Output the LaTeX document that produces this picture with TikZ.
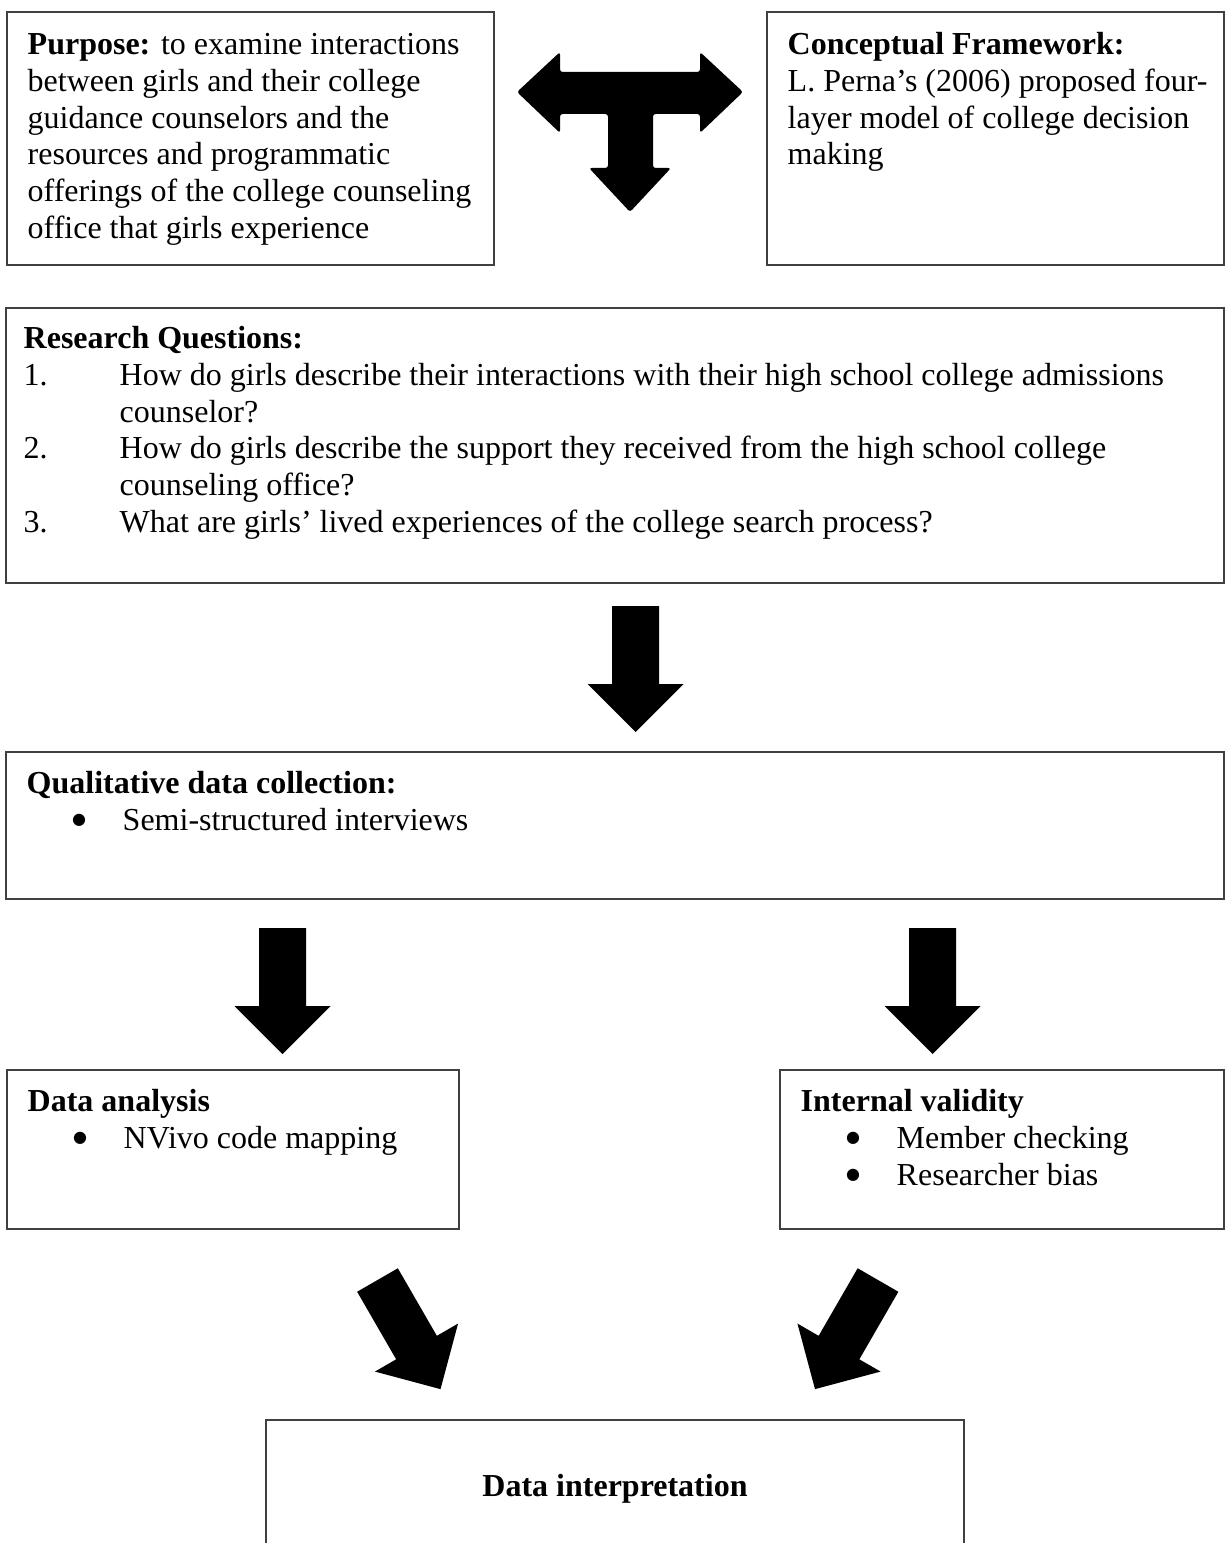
\documentclass[tikz,border=0pt]{standalone}
\usepackage{fontspec}
\setmainfont{Liberation Serif}
\newfontfamily\bulfont{DejaVu Sans}
\usetikzlibrary{fit,positioning}

\tikzset{
  box/.style={draw=black!75, line width=0.6pt, inner sep=0pt},
  boxtext/.style={anchor=north west, inner sep=0pt, align=left,
    font=\fontsize{12pt}{13.8pt}\selectfont},
  pics/blockarrow/.style={code={
    \fill (-23.5,0) -- (23.5,0) -- (23.5,78) -- (48,78) -- (0,126)
      -- (-48,78) -- (-23.5,78) -- cycle;
  }}
}
\newcommand{\bul}{\hspace*{17pt}\makebox[19pt][l]{\raisebox{2pt}{\bulfont\fontsize{6pt}{7pt}\selectfont ●}}}

\begin{document}
\begin{tikzpicture}[x=0.375pt, y=-0.375pt]
    \useasboundingbox (0,0) rectangle (1225,1543);

    % boxes
    \node[box, fit={(7,12) (494,265)}] (purpose) {};
    \node[box, fit={(767,12) (1224,265)}] (frame) {};
    \node[box, fit={(6,308) (1224,583)}] (questions) {};
    \node[box, fit={(6,752) (1224,899)}] (collect) {};
    \node[box, fit={(7,1070) (459,1229)}] (analysis) {};
    \node[box, fit={(780,1070) (1224,1229)}] (validity) {};
    \node[box, fit={(266,1420) (964,1560)}] (interp) {};

    % texts
    \node[boxtext] at ([shift={(21,17)}]purpose.north west) (purposetxt)
      {\strut\textbf{Purpose:} to examine interactions\\
       between girls and their college\\
       guidance counselors and the\\
       resources and programmatic\\
       offerings of the college counseling\\
       office that girls experience};
    \node[boxtext] at ([shift={(21,17)}]frame.north west) (frametxt)
      {\strut\textbf{Conceptual Framework:}\\
       L. Perna’s (2006) proposed four-\\
       layer model of college decision\\
       making};
    \node[boxtext] at ([shift={(18,15)}]questions.north west) (questionstxt)
      {\begin{tabular}{@{}p{36pt}@{}l@{}}
       \multicolumn{2}{@{}l@{}}{\textbf{Research Questions:}}\\
       1. & How do girls describe their interactions with their high school college admissions\\
          & counselor?\\
       2. & How do girls describe the support they received from the high school college\\
          & counseling office?\\
       3. & What are girls’ lived experiences of the college search process?
       \end{tabular}};
    \node[boxtext] at ([shift={(21,16)}]collect.north west) (collecttxt)
      {\strut\textbf{Qualitative data collection:}\\
       \bul Semi-structured interviews};
    \node[boxtext] at ([shift={(21,16)}]analysis.north west) (analysistxt)
      {\strut\textbf{Data analysis}\\
       \bul NVivo code mapping};
    \node[boxtext] at ([shift={(21,16)}]validity.north west) (validitytxt)
      {\strut\textbf{Internal validity}\\
       \bul Member checking\\
       \bul Researcher bias};
    \node[anchor=base, inner sep=0pt, font=\fontsize{12pt}{13.8pt}\selectfont\bfseries]
      at ([shift={(0,77)}]interp.north) (interptxt) {Data interpretation};

    % block arrows
    \coordinate (tee) at (630,92);
    \fill[rounded corners=1pt] (517,92) -- (560,52) -- (560,72) -- (700,72)
      -- (700,52) -- (743,92) -- (700,133) -- (700,114) -- (653,114)
      -- (653,168) -- (671,168) -- (630,212) -- (589,168) -- (608,168)
      -- (608,114) -- (560,114) -- (560,133) -- cycle;
    \pic at (635.5,606) {blockarrow};
    \pic at (282.5,928) {blockarrow};
    \pic at (932.5,928) {blockarrow};
    \pic[rotate=30] at (377.5,1280) {blockarrow};
    \pic[rotate=-30] at (878,1280) {blockarrow};
\end{tikzpicture}
\end{document}
